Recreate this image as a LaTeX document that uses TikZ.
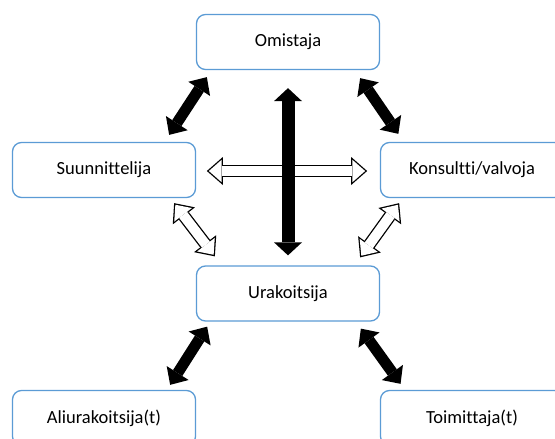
\documentclass[tikz,border=0pt]{standalone}
\usepackage{fontspec}
\setmainfont{Carlito}[Ligatures=CommonOff]
\usetikzlibrary{arrows.meta}
\definecolor{boxblue}{RGB}{91,155,213}

\begin{document}
\begin{tikzpicture}[
    x=1pt, y=-1pt,
    font=\fontsize{18.5}{22}\selectfont,
    party/.style={rectangle, rounded corners=9pt, draw=boxblue, line width=1.3pt, fill=white, minimum width=183pt, minimum height=55pt, inner sep=0pt},
    link/.style={<->, >={Triangle[length=14pt, width=26pt, line width=0pt 0 1]}, line width=11pt},
    mainlink/.style={<->, >={Triangle[length=13pt, width=28pt, line width=0pt 0 1]}, line width=13pt},
    infoedge/.style={<->, >={Triangle[length=16pt, width=28pt, line width=0pt 0 1]}, line width=12.5pt},
    infofill/.style={<->, >={Triangle[length=12.7pt, width=22.3pt, line width=0pt 0 1]}, line width=9.9pt, white, shorten <=2pt, shorten >=2pt}
]

\useasboundingbox (0,0) rectangle (555,439);
\clip (0,0) rectangle (555,439);

% Parties
\node[party] (omis) at (288,42) {Omistaja};
\node[party] (suun) at (104,170) {Suunnittelija};
\node[party] (kons) at (472,170) {Konsultti/valvoja};
\node[party] (urak) at (288,293.5) {Urakoitsija};
\node[party] (ali) at (104,418) {Aliurakoitsija(t)};
\node[party] (toim) at (472,418) {Toimittaja(t)};

% Information links (open arrows)
\draw[infoedge] ([shift={(10.7,1)}]suun.east) -- ([shift={(-12.7,1)}]kons.west);
\draw[infofill] ([shift={(10.7,1)}]suun.east) -- ([shift={(-12.7,1)}]kons.west);

\draw[infoedge] ([shift={(-22,5)}]suun.south east) -- ([shift={(19,-9)}]urak.north west);
\draw[infofill] ([shift={(-22,5)}]suun.south east) -- ([shift={(19,-9)}]urak.north west);

\draw[infoedge] ([shift={(19.3,5)}]kons.south west) -- ([shift={(-20,-8)}]urak.north east);
\draw[infofill] ([shift={(19.3,5)}]kons.south west) -- ([shift={(-20,-8)}]urak.north east);

% Contract links (solid arrows)
\draw[link] ([shift={(11,7)}]omis.south west) -- ([shift={(-27,-7)}]suun.north east);
\draw[link] ([shift={(-20,8)}]omis.south east) -- ([shift={(18.5,-8)}]kons.north west);
\draw[mainlink] ([shift={(0,18)}]omis.south) -- ([shift={(0,-10)}]urak.north);

\draw[link] ([shift={(11.3,5)}]urak.south west) -- ([shift={(-26,-5)}]ali.north east);
\draw[link] ([shift={(-19.3,7)}]urak.south east) -- ([shift={(20.7,-6)}]toim.north west);

\end{tikzpicture}
\end{document}
